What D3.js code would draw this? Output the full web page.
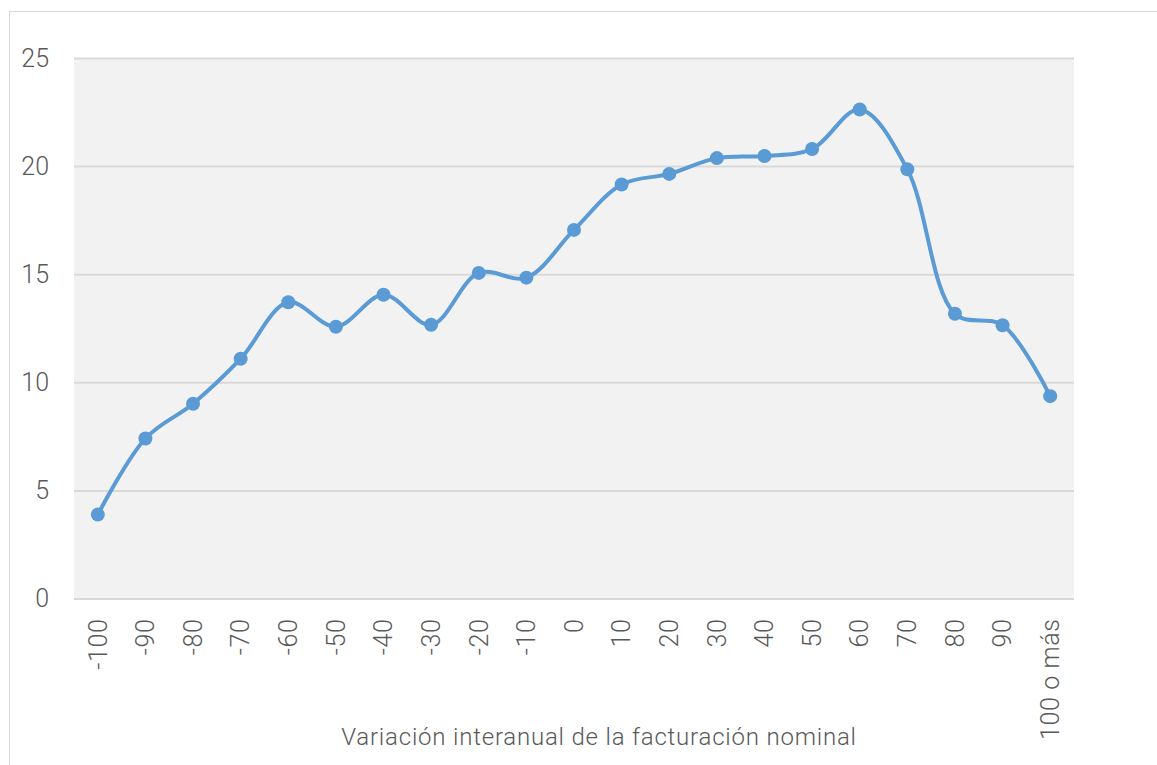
<!DOCTYPE html>
<html lang="es">
  <head>
    <meta charset="UTF-8" />
    <title>Variación interanual de la facturación nominal</title>
    <style>
      html,
      body {
        margin: 0;
        background: #fff;
      }
      text {
        font-family: Roboto, "DejaVu Sans", sans-serif;
        font-weight: 300;
        fill: #595959;
      }
    </style>
    <script src="https://cdn.jsdelivr.net/npm/d3@7"></script>
  </head>
  <body>
    <script>
      // datos
      const categories = [
        "-100", "-90", "-80", "-70", "-60", "-50", "-40", "-30", "-20", "-10",
        "0", "10", "20", "30", "40", "50", "60", "70", "80", "90", "100 o más",
      ];
      const values = [
        3.88, 7.4, 9.01, 11.09, 13.7, 12.57, 14.05, 12.66, 15.06, 14.84,
        17.05, 19.15, 19.64, 20.37, 20.47, 20.79, 22.62, 19.85, 13.17, 12.64, 9.36,
      ];
      const yTicks = [0, 5, 10, 15, 20, 25];
      const xTitle = "Variación interanual de la facturación nominal";

      const width = 1157;
      const height = 765;
      const margin = { left: 74, right: 83, top: 58, bottom: 166 };

      const svg = d3
        .select("body")
        .append("svg")
        .attr("width", width)
        .attr("height", height);

      // marco exterior
      svg
        .append("rect")
        .attr("x", 9.5)
        .attr("y", 11.5)
        .attr("width", width)
        .attr("height", height)
        .attr("fill", "none")
        .attr("stroke", "#d9d9d9");

      const x = d3
        .scaleBand()
        .domain(categories)
        .range([margin.left, width - margin.right]);

      const y = d3
        .scaleLinear()
        .domain([0, 25])
        .range([height - margin.bottom - 0.5, margin.top]);

      // fondo del área de trazado
      svg
        .append("rect")
        .attr("x", margin.left)
        .attr("y", margin.top)
        .attr("width", width - margin.left - margin.right)
        .attr("height", y(0) - margin.top)
        .attr("fill", "#f2f2f2");

      // eje Y con líneas de cuadrícula
      const yAxis = svg
        .append("g")
        .attr("transform", `translate(${margin.left},0)`)
        .call(
          d3
            .axisLeft(y)
            .tickValues(yTicks)
            .tickSize(-(width - margin.left - margin.right))
            .tickPadding(25)
        );
      yAxis.select(".domain").remove();
      yAxis
        .selectAll(".tick line")
        .attr("stroke", "#d9d9d9")
        .attr("stroke-width", 2);
      yAxis
        .selectAll(".tick text")
        .attr("font-size", 25)
        .style("font-family", "Roboto, sans-serif")
        .attr("fill", "#595959");

      // eje X
      const xAxis = svg
        .append("g")
        .attr("transform", `translate(0,${y(0)})`)
        .call(d3.axisBottom(x).tickSize(0));
      xAxis.select(".domain").remove();
      xAxis
        .selectAll(".tick text")
        .attr("font-size", 25)
        .style("font-family", "Roboto, sans-serif")
        .style("letter-spacing", "0.6px")
        .attr("fill", "#595959")
        .attr("text-anchor", "end")
        .attr("transform", "rotate(-90)")
        .attr("x", -20)
        .attr("y", 0)
        .attr("dy", "0.35em");

      // línea suavizada
      const line = d3
        .line()
        .x((d, i) => x(categories[i]) + x.bandwidth() / 2)
        .y((d) => y(d))
        .curve(d3.curveCatmullRom.alpha(0.5));

      svg
        .append("path")
        .datum(values)
        .attr("d", line)
        .attr("fill", "none")
        .attr("stroke", "#5b9bd5")
        .attr("stroke-width", 4)
        .attr("stroke-linejoin", "round");

      svg
        .selectAll(".pt")
        .data(values)
        .enter()
        .append("circle")
        .attr("class", "pt")
        .attr("cx", (d, i) => x(categories[i]) + x.bandwidth() / 2)
        .attr("cy", (d) => y(d))
        .attr("r", 7)
        .attr("fill", "#5b9bd5");

      // título del eje X
      svg
        .append("text")
        .attr("x", 599)
        .attr("y", 745)
        .attr("text-anchor", "middle")
        .attr("font-size", 24)
        .style("letter-spacing", "0.8px")
        .text(xTitle);
    </script>
  </body>
</html>
